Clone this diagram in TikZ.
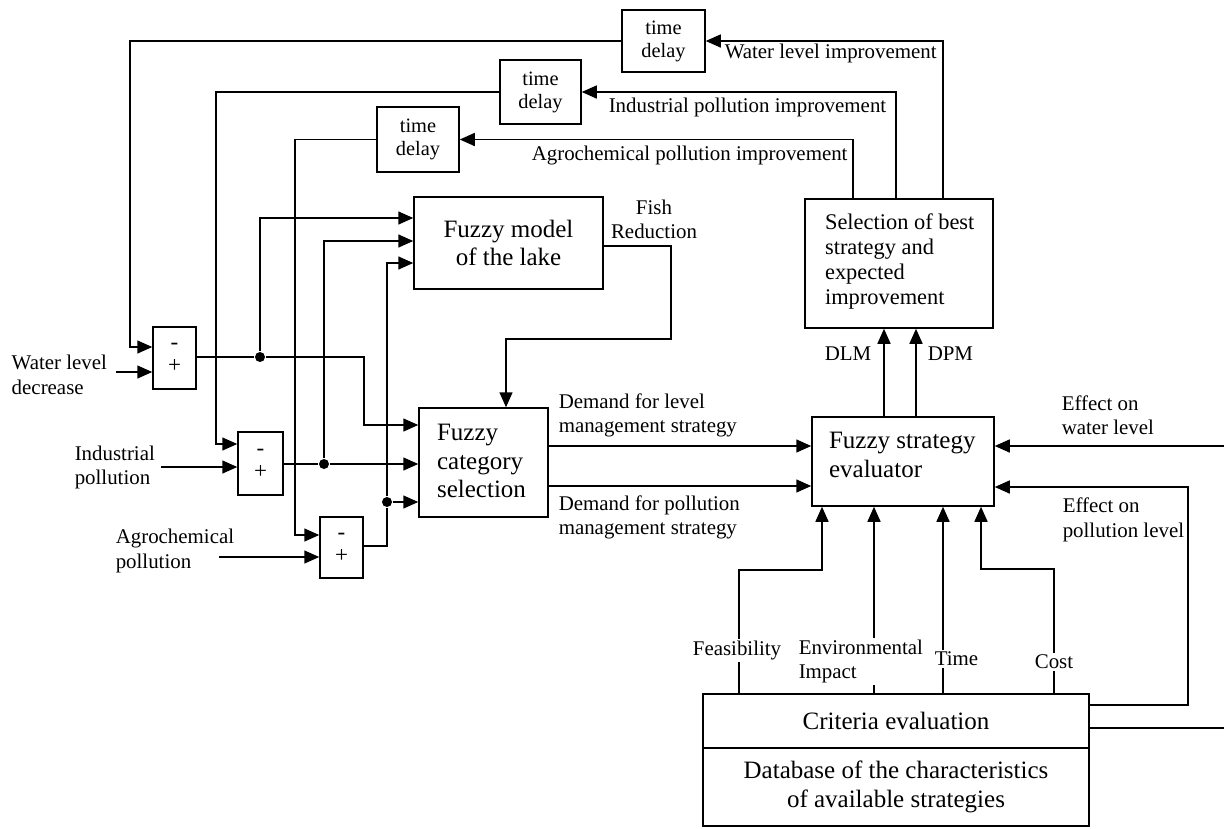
\documentclass[tikz,border=0pt]{standalone}
\usepackage{fontspec}
\setmainfont{Liberation Serif}
\usetikzlibrary{arrows.meta}
\begin{document}
\begin{tikzpicture}[x=1pt,y=-1pt,
  line width=1.5pt,
  arr/.style={-{Triangle[length=15pt,width=13pt]}},
  box/.style={draw,rectangle,inner sep=0pt,line width=1.5pt},
  big/.style={font=\fontsize{25}{28.5}\selectfont},
  mid/.style={font=\fontsize{22.4}{25}\selectfont},
  lab/.style={font=\fontsize{20.9}{24.5}\selectfont,inner sep=2pt,align=left},
  tdf/.style={font=\fontsize{20.4}{23}\selectfont},
  sgn/.style={font=\fontsize{23}{23}\selectfont},
  wlab/.style={lab,fill=white},
  dot/.style={circle,fill=black,inner sep=0pt,minimum size=10pt}]
\useasboundingbox (0,0) rectangle (1224,828);

% boxes
\node[box,tdf,minimum width=83,minimum height=62,align=center] (td1) at (663.5,41) {time\\delay};
\node[box,tdf,minimum width=81,minimum height=64,align=center] (td2) at (540.5,92) {time\\delay};
\node[box,tdf,minimum width=82,minimum height=65,align=center] (td3) at (418,139.5) {time\\delay};
\node[box,big,minimum width=189,minimum height=92,align=center] (model) at (508.5,243) {Fuzzy model\\of the lake};
\node[box,sgn,minimum width=43,minimum height=62,align=center] (sum1) at (174.5,358) {-\\+};
\node[box,sgn,minimum width=45,minimum height=63,align=center] (sum2) at (260.5,463.5) {-\\+};
\node[box,sgn,minimum width=43,minimum height=61,align=center] (sum3) at (341.5,547.5) {-\\+};
\node[box,minimum width=129,minimum height=109] (cat) at (483.5,462.5) {};
\node[big,align=left,anchor=west] (catT) at (433,461) {Fuzzy\\category\\selection};
\node[box,minimum width=188,minimum height=129] (sel) at (899,263.5) {};
\node[mid,align=left,anchor=west] (selT) at (821,261) {Selection of best\\strategy and\\expected\\improvement};
\node[box,minimum width=182,minimum height=89] (eval) at (903,461.5) {};
\node[big,align=left,anchor=west] (evalT) at (825,455) {Fuzzy strategy\\evaluator};
\node[box,big,minimum width=386,minimum height=54] (crit) at (896,721) {Criteria evaluation};
\node[box,big,minimum width=386,minimum height=78,align=center] (db) at (896,787) {Database of the characteristics\\of available strategies};

% free ends
\coordinate (inW) at (116,372);
\coordinate (inI) at (161,467);
\coordinate (inA) at (219,557);
\coordinate (rW) at (1224,446);
\coordinate (rC) at (1224,728);

% feedback from selection to time delays
\draw[arr] (sel.north -| 943,0) |- (td1.east);
\draw[arr] (sel.north -| 896,0) |- (td2.east);
\draw[arr] (sel.north -| 853,0) |- (td3.east);
\draw[arr] (td1.west) -| (130,347) -- (sum1.west |- 0,347);
\draw[arr] (td2.west) -| (216,444) -- (sum2.west |- 0,444);
\draw[arr] (td3.west) -| (295,535) -- (sum3.west |- 0,535);

% external inputs
\draw[arr] (inW) -- (sum1.west |- inW);
\draw[arr] (inI) -- (sum2.west |- inI);
\draw[arr] (inA) -- (sum3.west |- inA);

% summer outputs
\node[dot] (d1) at (260,357) {};
\node[dot] (d2) at (324,464) {};
\node[dot] (d3) at (387,502) {};
\draw (sum1.east |- d1) -- (d1);
\draw[arr] (d1) -| (364,425) -- (cat.west |- 0,425);
\draw[arr] (d1) |- (model.west |- 0,218);
\draw (sum2.east |- d2) -- (d2);
\draw[arr] (d2) -- (cat.west |- d2);
\draw[arr] (d2) |- (model.west |- 0,241);
\draw (sum3.east |- 0,546) -| (d3);
\draw[arr] (d3) -- (cat.west |- d3);
\draw[arr] (d3) |- (model.west |- 0,263);

% fish reduction
\draw[arr] (model.east |- 0,246) -| (671,339) -| (cat.north -| 506,0);

% category to evaluator
\draw[arr] (cat.east |- 0,446) -- (eval.west |- 0,446);
\draw[arr] (cat.east |- 0,486) -- (eval.west |- 0,486);

% evaluator to selection
\draw[arr] (eval.north -| 884,0) -- (sel.south -| 884,0);
\draw[arr] (eval.north -| 916,0) -- (sel.south -| 916,0);

% right side
\draw[arr] (rW) -- (eval.east |- rW);
\draw[arr] (crit.east |- 0,705) -| (1188,487) -- (eval.east |- 0,487);
\draw (crit.east |- rC) -- (rC);

% criteria to evaluator
\draw[arr] (crit.north -| 739,0) |- (822,570) -- (eval.south -| 822,0);
\draw[arr] (crit.north -| 874,0) -- (eval.south -| 874,0);
\draw[arr] (crit.north -| 943,0) -- (eval.south -| 943,0);
\draw[arr] (crit.north -| 1054,0) |- (981,569) -- (eval.south -| 981,0);

% labels
\node[wlab,anchor=center] (lF) at (737,650) {Feasibility};
\node[wlab,anchor=west] (lE) at (796,661.5) {Environmental\\Impact};
\node[wlab,anchor=west] (lT) at (932,659) {Time};
\node[wlab,anchor=center] (lC) at (1054,662) {Cost};
\node[lab,anchor=east] (lDLM) at (874,354) {DLM};
\node[lab,anchor=west] (lDPM) at (925,354) {DPM};
\node[lab,anchor=west] (lEW) at (1059,415) {Effect on\\water level};
\node[lab,anchor=west] (lEP) at (1060,520) {Effect on\\pollution level};
\node[lab,anchor=west] (lDL) at (556,415.5) {Demand for level\\management strategy};
\node[lab,anchor=west] (lDP) at (556,517.5) {Demand for pollution\\management strategy};
\node[lab,anchor=west] (lWI) at (722,53) {Water level improvement};
\node[lab,anchor=west] (lII) at (606,107) {Industrial pollution improvement};
\node[lab,anchor=west] (lAI) at (529,155) {Agrochemical pollution improvement};
\node[lab,anchor=center] (lFR) at (654,219.5) [align=center] {Fish\\Reduction};
\node[lab,anchor=west] (lWL) at (9,375) {Water level\\decrease};
\node[lab,anchor=west] (lIP) at (72,467.5) {Industrial\\pollution};
\node[lab,anchor=west] (lAP) at (113,551) {Agrochemical\\pollution};
\end{tikzpicture}
\end{document}
